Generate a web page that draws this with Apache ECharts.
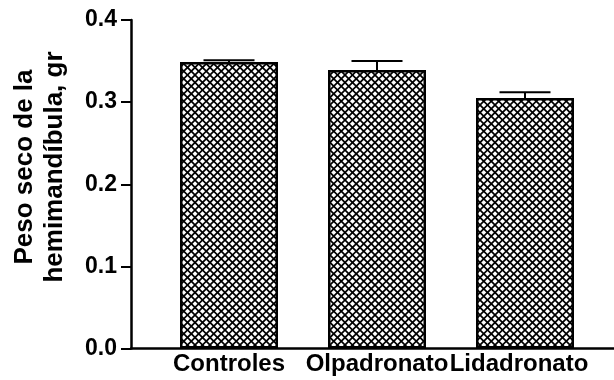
<!DOCTYPE html>
<html>
<head>
<meta charset="utf-8">
<script src="https://cdn.jsdelivr.net/npm/echarts@6/dist/echarts.min.js"></script>
<style>
html,body{margin:0;padding:0;background:#fff;}
#chart{width:614px;height:380px;}
</style>
</head>
<body>
<div id="chart"></div>
<script>
// ---- data ----
var categories = ['Controles', 'Olpadronato', 'Lidadronato'];
var means = [0.349, 0.339, 0.305];
var errTop = [0.351, 0.350, 0.312];
var yTicks = [0.0, 0.1, 0.2, 0.3, 0.4];
var yTitle = 'Peso seco de la\nhemimandíbula, gr';

// ---- crosshatch pattern ----
var tile = document.createElement('canvas');
tile.width = 15; tile.height = 15;
var g = tile.getContext('2d');
g.fillStyle = '#fff';
g.fillRect(0, 0, 15, 15);
g.strokeStyle = '#000';
g.lineWidth = 1.7;
[-15, -7.5, 0, 7.5, 15].forEach(function (c) {
  g.beginPath(); g.moveTo(c - 5, -5); g.lineTo(c + 25, 25); g.stroke();
});
[0, 7.5, 15, 22.5, 30].forEach(function (c) {
  g.beginPath(); g.moveTo(c + 5, -5); g.lineTo(c - 25, 25); g.stroke();
});

var FONT = 'Liberation Sans, Arial, Helvetica, sans-serif';
var chart = echarts.init(document.getElementById('chart'), null, {renderer: 'canvas'});

var errData = categories.map(function (c, i) { return [i, means[i], errTop[i]]; });

chart.setOption({
  animation: false,
  backgroundColor: '#fff',
  grid: [
    {left: 155, right: 15, top: 20, bottom: 31.5},
    {left: 131, right: -2, top: 20, bottom: 31.5}
  ],
  xAxis: [
    {
      type: 'category', gridIndex: 0, data: categories,
      axisLine: {show: false}, axisTick: {show: false},
      axisLabel: {
        color: '#000', fontFamily: FONT, fontWeight: 'bold', fontSize: 24, margin: 4, interval: 0,
        formatter: function (v, i) { return i === 2 ? '{s|' + v + '}' : v; },
        rich: {s: {color: '#000', fontFamily: FONT, fontWeight: 'bold', fontSize: 24, padding: [0, 12, 0, 0]}}
      }
    },
    {
      type: 'value', gridIndex: 1, min: 0, max: 1,
      axisLine: {show: true, lineStyle: {color: '#000', width: 2.5}},
      axisTick: {show: false}, axisLabel: {show: false}, splitLine: {show: false}
    }
  ],
  yAxis: [
    {type: 'value', gridIndex: 0, min: 0, max: 0.4, show: false},
    {
      type: 'value', gridIndex: 1, min: 0, max: 0.4, interval: 0.1,
      axisLine: {show: true, lineStyle: {color: '#000', width: 2.5}},
      axisTick: {show: true, length: 10, lineStyle: {color: '#000', width: 2}},
      axisLabel: {
        color: '#000', fontFamily: FONT, fontWeight: 'bold', fontSize: 23, margin: 14,
        formatter: function (v) { return v.toFixed(1); }
      },
      splitLine: {show: false}
    }
  ],
  graphic: [{
    type: 'text',
    x: 40, y: 167,
    rotation: Math.PI / 2,
    style: {
      text: yTitle,
      fill: '#000',
      font: 'bold 26px ' + FONT,
      lineHeight: 30,
      textAlign: 'center',
      textVerticalAlign: 'middle'
    }
  }],
  series: [
    {
      type: 'bar', xAxisIndex: 0, yAxisIndex: 0,
      data: means, barWidth: 98,
      itemStyle: {
        color: {image: tile, repeat: 'repeat'},
        borderColor: '#000', borderWidth: 2.5
      }
    },
    {
      type: 'custom', xAxisIndex: 0, yAxisIndex: 0,
      data: errData,
      renderItem: function (params, api) {
        var base = api.coord([api.value(0), api.value(1)]);
        var top = api.coord([api.value(0), api.value(2)]);
        var hw = 25.5;
        var st = {stroke: '#000', lineWidth: 2};
        return {
          type: 'group',
          children: [
            {type: 'line', shape: {x1: top[0], y1: base[1], x2: top[0], y2: top[1]}, style: st},
            {type: 'line', shape: {x1: top[0] - hw, y1: top[1], x2: top[0] + hw, y2: top[1]}, style: st}
          ]
        };
      },
      z: 3
    }
  ]
});
</script>
</body>
</html>
